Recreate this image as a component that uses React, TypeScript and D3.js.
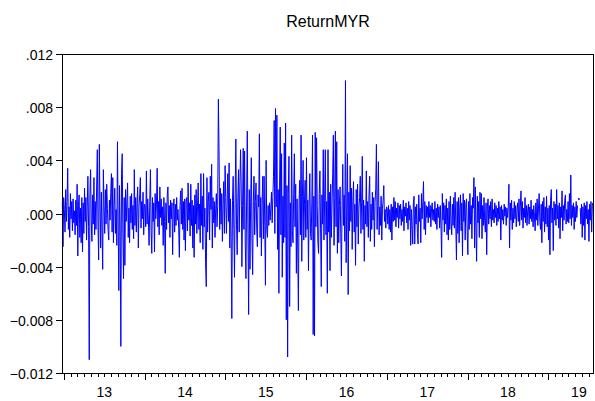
import React, { useRef, useEffect } from 'react';
import * as d3 from 'd3';

// ReturnMYR daily returns, in thousandths (x 0.001)
const r2013h1 = [
  0.8, -2.5, 1.2, 0.3, -1.4, 1.8, -0.6, 0.9, 3.4, -1.2,
  0.5, -1.8, 1.5, -0.4, 0.9, -1.3, 1.1, -0.7, 0.2, -1.6,
  1.0, -0.9, 2.2, -3.2, 0.6, 1.4, -1.8, 0.4, -2.2, 1.2,
  -2.9, 0.8, -1.5, 1.9, -0.6, 1.2, -2.0, 0.5, 2.8, -1.0,
  -11.0, 1.5, 3.3, -0.5, -2.1, 1.4, -0.8, 2.7, -1.6, 0.9,
  -1.2, 2.0, 4.8, -0.9, -3.5, 5.2, 0.8, -2.6, 1.6, -1.0,
  -4.2, 3.3, 0.5,
];
const r2013h2 = [
  -1.5, 1.8, -0.8, 2.2, 0.4, -1.2, -2.0, 1.0, -0.5, 1.6,
  3.0, -1.4, 2.7, -2.2, 0.6, 1.9, -1.5, 0.3, -2.4, 5.4,
  -0.8, -5.8, 2.1, -1.2, -10.0, 3.0, 4.5, -1.5, -4.9, 1.2,
  -3.9, 1.8, -0.6, 0.9, 2.3, -1.8, 0.4, -2.2, 1.3, -0.7,
  1.5, -1.2, 0.6, -1.9, 3.3, -0.9, 1.2, -1.4, 0.8, 2.0,
  -2.6, 0.5, 1.4, 2.7, -1.1, 0.9, -0.4, 1.6, -1.6, 0.7,
];
const r2014h1 = [
  0.6, -1.0, 3.2, -0.8, 1.1, -0.5, -2.4, 0.9, 3.3, -1.3,
  -3.0, 1.2, -0.6, 0.8, -2.9, 1.5, -0.4, 0.7, 3.4, -1.0,
  0.9, -1.6, 2.0, -0.3, 1.1, -0.9, 0.5, -2.4, 1.2, -0.6,
  -4.5, 0.8, -1.2, 1.4, 2.0, -0.7, 0.6, -1.8, 1.0, -0.4,
  0.8, -3.1, 0.5, 1.1, -1.4, 0.7, -0.9, 1.2, -0.5, 0.3,
  -1.1, -3.3, 0.6, 1.7, -0.8, 1.9, -1.2, 0.9, -2.0, 1.1,
];
const r2014h2 = [
  -2.8, 0.9, 1.2, -1.3, 2.3, -0.5, 0.8, -1.7, 2.2, -0.9,
  1.0, -2.6, 0.6, -3.3, 1.4, -0.8, 1.8, -1.5, 0.5, 2.3,
  -1.2, 0.7, -2.2, 3.0, -0.9, 1.3, -2.7, 3.0, -1.0, 0.4,
  -3.7, -5.5, 2.7, -1.4, 0.9, 1.6, -2.0, 2.8, 0.3, 3.7,
  -2.6, 1.2, -0.7, 0.9, -1.8, 0.4, 1.5, -1.0, 0.6, 8.6,
  4.8, -1.2, 1.9, -0.8, 1.5, -2.1, 0.7, 2.4, -1.5, 3.6,
];
const r2015h1 = [
  1.2, -1.5, 0.8, 3.0, -0.6, 3.8, -2.6, 1.1, -1.8, -7.9,
  1.0, 2.8, -1.2, -4.8, 1.5, 5.6, -0.8, -3.1, 1.2, 3.3,
  -1.4, 2.0, 4.8, 2.0, -4.0, 0.6, 4.9, -1.2, 4.7, -2.3,
  -4.9, 1.1, 6.2, -1.5, -7.6, 1.8, -4.2, 0.8, 4.2, -2.0,
  -4.6, 1.0, 2.8, -1.6, 0.9, 2.3, -1.1, -2.5, 1.4, 0.5,
  6.0, -1.8, 1.2, -3.2, 0.6, 2.8, -1.9, 2.8, -0.9, -5.4,
];
const r2015h2 = [
  4.0, -1.2, -1.8, 0.6, -0.9, 0.8, -0.5, 0.4, 1.6, -0.7,
  1.2, 2.8, 7.0, -1.5, 7.9, 0.5, 7.4, -2.7, 1.8, -6.0,
  2.0, 6.5, -1.6, 4.5, -4.8, 1.3, -2.2, 5.3, -1.8, 6.8,
  -8.0, 2.1, -10.8, 1.5, 4.3, -7.0, 0.8, -2.5, 5.9, -1.3,
  -2.2, 1.4, 4.5, -1.0, 2.2, -4.5, 1.1, -2.6, -7.3, 0.9,
  2.5, -1.6, 5.9, -3.6, 1.3, 4.0, -2.0, 0.7, 2.5, -1.8,
];
const r2016h1 = [
  4.2, -1.2, 1.0, -4.3, 0.8, 3.0, -1.5, -2.0, 1.1, 5.9,
  -9.1, 1.3, -9.2, 6.1, -1.0, 5.7, 0.6, -2.2, -3.0, 1.5,
  3.2, -1.1, -5.5, 1.4, -0.8, 4.8, -2.0, 1.0, 4.8, -1.6,
  0.9, -6.0, 4.8, -1.4, 1.6, -4.3, 2.2, -1.8, 0.5, 3.0,
  5.9, -2.4, 1.2, 6.2, -1.0, 5.4, -3.0, 1.8, -2.2, 0.6,
  2.0, -1.5, -4.7, 1.0, 3.7, -0.9, 1.4, -2.1, 10.0, -3.7,
];
const r2016h2 = [
  0.8, 4.5, -6.1, 1.6, -1.3, 3.6, -0.6, 1.9, -2.7, 0.9,
  2.4, -1.4, 0.7, -3.9, 1.8, -1.0, 2.2, -2.3, 0.4, 1.2,
  2.8, -1.5, 0.8, 4.3, -1.2, 1.0, -3.6, 0.6, -0.8, 3.2,
  -1.0, 0.9, -1.8, 1.4, 2.8, -2.1, 0.7, -1.2, 1.6, -0.5,
  1.2, -2.5, 0.8, 1.9, 5.2, -1.2, 0.6, 3.9, -1.6, 0.5,
  -0.9, 1.3, -2.0, 0.4, 1.0, 2.1, -0.6, 0.3, -1.1, 0.5,
];
const r2017h1 = [
  0.4, -0.8, 0.6, -1.2, 0.3, -1.4, 0.7, -2.0, 0.5, -0.6,
  1.2, -0.5, 0.9, -1.0, 0.4, -0.3, 0.8, -1.1, 0.6, -0.4,
  0.7, -0.9, 0.3, -0.6, 1.0, -1.3, 0.5, -0.2, 0.8, -0.7,
  0.4, -1.2, 0.9, -0.5, 0.6, -2.4, 0.3, -0.9, -2.3, 0.8,
  1.3, -2.3, 0.5, -0.8, 0.7, -1.5, -2.3, 1.4, -0.6, 0.4,
  -2.2, 1.5, -0.4, 0.8, 2.4, -1.2, 0.9, -1.6, 0.6, -0.3,
];
const r2017h2 = [
  0.5, -0.7, 0.9, -0.3, 0.6, -1.0, 0.4, 0.8, -0.5, 0.3,
  -0.6, 0.9, -0.8, 0.4, -1.2, 0.7, -0.3, 0.5, -1.1, 0.6,
  -0.9, -3.3, 1.5, -0.5, 0.8, -1.4, 0.6, -0.8, 1.1, -1.6,
  0.4, -2.0, 0.9, -1.2, 1.3, -0.6, -1.6, 0.7, -0.9, 1.2,
  -1.1, 1.6, -0.7, -3.5, 0.9, -1.5, 1.2, -2.2, 0.5, 1.4,
  -1.3, 0.8, -3.2, 1.5, -0.6, 1.0, -2.0, 0.7, 1.1, -1.4,
];
const r2018h1 = [
  -3.1, 0.9, -1.2, 1.5, -0.8, 0.6, -1.9, 1.2, 0.4, 2.7,
  -2.6, 2.0, -1.1, -3.6, 1.3, -0.7, 0.9, -1.8, 1.6, -0.4,
  1.5, -1.9, 0.6, -0.9, 1.2, -0.5, -1.4, 0.8, -3.1, 0.5,
  1.1, -0.8, 0.6, -0.4, 0.9, -1.0, 1.1, -0.5, 0.3, -0.7,
  0.8, -0.3, 0.6, -0.9, 0.4, -0.6, 0.9, -0.4, 0.5, -2.0,
  0.6, -0.5, 0.3, -0.8, 0.7, -0.2, 0.5, -0.9, 0.4, -0.3,
];
const r2018h2 = [
  0.5, 2.2, -2.6, 0.8, -0.5, 1.0, -1.2, 0.4, -0.7, 0.9,
  -0.4, 0.6, -1.0, 0.3, 0.8, -0.6, 1.1, -0.9, 0.5, 1.7,
  -0.5, 0.9, -1.1, 0.4, -0.3, 1.2, -0.7, 0.6, -0.9, 0.3,
  0.7, -0.8, 0.5, -0.4, 1.0, -0.6, 0.3, -1.0, 0.6, -0.2,
  -1.3, 0.8, -0.5, 1.1, -0.9, 0.4, 1.5, -0.6, -1.2, 0.7,
  -2.2, 0.9, -0.6, 1.2, -1.4, 0.5, -0.8, 1.3, -1.0, 0.4,
];
// null = missing observation (EViews leaves a gap)
const r2019 = [
  -2.0, 0.6, -3.1, 1.0, 1.8, -0.7, 0.4, -2.8, 0.9, -0.5,
  0.7, -0.9, 1.8, -0.4, 0.6, -1.1, 0.8, -1.9, 0.5, -0.3,
  1.7, -1.3, 0.6, -0.5, 1.0, 1.4, -0.8, 0.3, -0.6, 0.9,
  -0.7, 1.5, -0.4, 2.9, -0.9, 0.6, -0.3, 0.8, -1.2, 0.5,
  -0.6, 0.9, -0.3, 0.6, null, 1.1, null, 0.4, -0.8, 0.7,
  -1.8, 0.5, -0.9, 0.8, -2.0, 0.6, -0.4, 0.9, -0.8, 0.3,
  -2.1, 0.7, -0.5, 0.9, -1.4, 0.6, 0.8, 0.2,
];

const segments = [r2013h1, r2013h2, r2014h1, r2014h2, r2015h1, r2015h2, r2016h1, r2016h2,
  r2017h1, r2017h2, r2018h1, r2018h2, r2019];
const segStart = [2012.975, 2013.5, 2014, 2014.5, 2015, 2015.5, 2016, 2016.5, 2017, 2017.5, 2018, 2018.5, 2019];
const segEnd = [2013.5, 2014, 2014.5, 2015, 2015.5, 2016, 2016.5, 2017, 2017.5, 2018, 2018.5, 2019, 2019.567];

const years = [2013, 2014, 2015, 2016, 2017, 2018, 2019];
const yearLabels = ['13', '14', '15', '16', '17', '18', '19'];
const yearLabelAt = [2013.5, 2014.5, 2015.5, 2016.5, 2017.5, 2018.5, 2019.38];
const yTicks = [-0.012, -0.008, -0.004, 0, 0.004, 0.008, 0.012];

type Pt = { t: number; v: number | null };

const points: Pt[] = [];
segments.forEach((seg, k) => {
  const step = (segEnd[k] - segStart[k]) / seg.length;
  seg.forEach((v, i) => points.push({ t: segStart[k] + (i + 0.5) * step, v: v == null ? null : v / 1000 }));
});

const W = 595;
const H = 401;
const margin = { top: 54, right: 1, bottom: 28, left: 62 };

export default function App() {
  const ref = useRef<SVGSVGElement | null>(null);

  useEffect(() => {
    if (!ref.current) return;
    const svg = d3.select(ref.current);
    svg.selectAll('*').remove();

    const x = d3.scaleLinear().domain([2012.975, 2019.567]).range([margin.left, W - margin.right]);
    const y = d3.scaleLinear().domain([-0.012, 0.012]).range([H - margin.bottom, margin.top]);
    const x0 = margin.left, x1 = W - margin.right;
    const y0 = H - margin.bottom, y1 = margin.top;
    const font = 'Arial, "Liberation Sans", sans-serif';

    // title
    svg.append('text')
      .attr('x', (x0 + x1) / 2).attr('y', 27)
      .attr('text-anchor', 'middle')
      .style('font-family', font).style('font-size', '16px')
      .text('ReturnMYR');

    // series
    const line = d3.line<Pt>()
      .defined(d => d.v != null)
      .x(d => x(d.t))
      .y(d => y(d.v as number));

    svg.append('path')
      .datum(points)
      .attr('fill', 'none')
      .attr('stroke', '#0000ff')
      .attr('stroke-width', 1)
      .attr('d', line);

    // isolated observations show as dots
    const lonely = points.filter((p, i) => p.v != null &&
      (i === 0 || points[i - 1].v == null) && (i === points.length - 1 || points[i + 1].v == null));
    svg.selectAll('circle.lone').data(lonely).enter().append('circle')
      .attr('cx', d => x(d.t)).attr('cy', d => y(d.v as number))
      .attr('r', 1).attr('fill', '#0000ff');

    // frame
    svg.append('rect')
      .attr('x', x0 + 0.5).attr('y', y1 + 0.5)
      .attr('width', x1 - x0 - 1).attr('height', y0 - y1)
      .attr('fill', 'none').attr('stroke', '#000').attr('stroke-width', 1);

    // y axis
    const fmt = (v: number) => d3.format('.3f')(v).replace(/^(-?)0\./, '$1.');
    const yg = svg.append('g');
    yTicks.forEach(v => {
      const yy = Math.round(y(v)) + 0.5;
      yg.append('line').attr('x1', x0 - 6).attr('x2', x0).attr('y1', yy).attr('y2', yy)
        .attr('stroke', '#000');
      yg.append('text').attr('x', x0 - 9).attr('y', yy + 5)
        .attr('text-anchor', 'end')
        .style('font-family', font).style('font-size', '14px')
        .text(fmt(v));
    });

    // x axis: monthly minor ticks, yearly major ticks
    const xg = svg.append('g');
    for (let yr = 2013; yr <= 2019; yr++) {
      for (let m = 0; m < 12; m++) {
        const t = yr + m / 12;
        if (t > 2019.567) break;
        const xx = Math.round(x(t)) + 0.5;
        xg.append('line').attr('x1', xx).attr('x2', xx)
          .attr('y1', y0).attr('y2', y0 + (m === 0 ? 7 : 4))
          .attr('stroke', '#000');
      }
    }
    years.forEach((yr, i) => {
      xg.append('text').attr('x', x(yearLabelAt[i])).attr('y', y0 + 24)
        .attr('text-anchor', 'middle')
        .style('font-family', font).style('font-size', '14px')
        .text(yearLabels[i]);
    });
  }, []);

  return (
    <svg ref={ref} width={W} height={H}
      style={{ position: 'absolute', left: 0, top: 0, background: '#fff' }} />
  );
}
